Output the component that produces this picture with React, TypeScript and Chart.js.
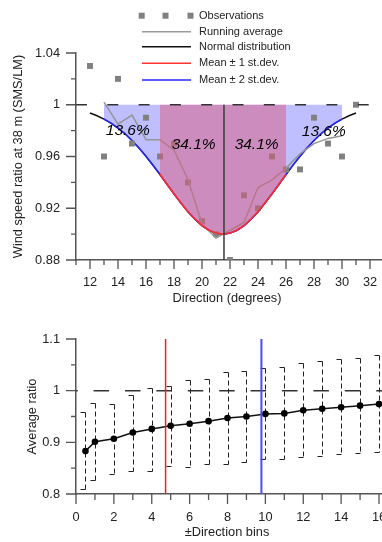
import React, { useEffect, useRef } from "react";
import { Chart, registerables } from "chart.js";

Chart.register(...registerables);

const FONT = "'Liberation Sans', Arial, Helvetica, sans-serif";
const TEXT = "#222222";
const AXIS = "#555555";

// ---------- Top chart data ----------
const OBS_DIR = [12, 13, 14, 15, 16, 17, 18, 19, 20, 21, 22, 23, 24, 25, 26, 27, 28, 29, 30, 31];
const OBS_RATIO = [1.03, 0.96, 1.02, 0.97, 0.99, 0.96, 0.97, 0.94, 0.91, 0.9, 0.88, 0.93, 0.92, 0.96, 0.95, 0.95, 0.99, 0.97, 0.96, 1.0];

const RUN_DIR = [13, 14, 15, 16, 17, 18, 19, 20, 21, 22, 23, 24, 25, 26, 27, 28, 29, 30];
const RUN_RATIO = [1.002, 0.985, 0.992, 0.973, 0.973, 0.965, 0.942, 0.908, 0.897, 0.903, 0.909, 0.936, 0.942, 0.951, 0.962, 0.97, 0.974, 0.976];

const NORM_DIR = [12, 12.5, 13, 13.5, 14, 14.5, 15, 15.5, 16, 16.5, 17, 17.5, 18, 18.5, 19, 19.5, 20, 20.5, 21, 21.5, 22, 22.5, 23, 23.5, 24, 24.5, 25, 25.5, 26, 26.5, 27, 27.5, 28, 28.5, 29, 29.5, 30, 30.5, 31];
const NORM_RATIO = [0.9936, 0.9915, 0.9889, 0.9858, 0.982, 0.9776, 0.9724, 0.9666, 0.9602, 0.9533, 0.9461, 0.9386, 0.9312, 0.924, 0.9173, 0.9115, 0.9066, 0.903, 0.9008, 0.9, 0.9008, 0.903, 0.9066, 0.9115, 0.9173, 0.924, 0.9312, 0.9386, 0.9461, 0.9533, 0.9602, 0.9666, 0.9724, 0.9776, 0.982, 0.9858, 0.9889, 0.9915, 0.9936];

const MEAN_DIR = 21.57;
const SD1_RANGE = [17, 26];
const SD2_RANGE = [13, 30];
const REF_LINE_RANGE = [11, 32];

const PCT_LABELS = ["13.6%", "34.1%", "34.1%", "13.6%"];
const PCT_DIR = [14.7, 19.4, 23.9, 28.7];
const PCT_RATIO = [0.98, 0.969, 0.969, 0.979];

const TOP_X_TICKS = [12, 14, 16, 18, 20, 22, 24, 26, 28, 30, 32];
const TOP_X_MINOR = [11, 13, 15, 17, 19, 21, 23, 25, 27, 29, 31, 33];
const TOP_Y_TICKS = [0.88, 0.92, 0.96, 1.0, 1.04];
const TOP_Y_LABELS = ["0.88", "0.92", "0.96", "1", "1.04"];
const TOP_Y_MINOR = [0.9, 0.94, 0.98, 1.02];

const LEGEND_LABELS = ["Observations", "Running average", "Normal distribution", "Mean \u00b1 1 st.dev.", "Mean \u00b1 2 st.dev."];
const TOP_X_TITLE = "Direction (degrees)";
const TOP_Y_TITLE = "Wind speed ratio at 38 m (SMS/LM)";

// ---------- Bottom chart data ----------
const BINS = [0.5, 1, 2, 3, 4, 5, 6, 7, 8, 9, 10, 11, 12, 13, 14, 15, 16];
const AVG_RATIO = [0.883, 0.901, 0.907, 0.919, 0.926, 0.932, 0.936, 0.941, 0.947, 0.95, 0.955, 0.956, 0.962, 0.965, 0.968, 0.971, 0.974];
const UPPER = [0.958, 0.976, 0.974, 0.992, 1.006, 1.01, 1.021, 1.022, 1.037, 1.038, 1.044, 1.046, 1.054, 1.057, 1.061, 1.063, 1.069];
const LOWER = [0.809, 0.827, 0.839, 0.845, 0.845, 0.855, 0.852, 0.858, 0.858, 0.861, 0.867, 0.868, 0.872, 0.874, 0.877, 0.879, 0.881];
const SD1_BIN = 4.73;
const SD2_BIN = 9.79;

const BOT_X_TICKS = [0, 2, 4, 6, 8, 10, 12, 14, 16, 18];
const BOT_X_MINOR = [1, 3, 5, 7, 9, 11, 13, 15, 17];
const BOT_Y_TICKS = [0.8, 0.9, 1.0, 1.1];
const BOT_Y_LABELS = ["0.8", "0.9", "1", "1.1"];
const BOT_Y_MINOR = [0.85, 0.95, 1.05];
const BOT_X_TITLE = "\u00b1Direction bins";
const BOT_Y_TITLE = "Average ratio";

const pts = (xs: number[], ys: number[]) => xs.map((x, i) => ({ x, y: ys[i] }));

type TickSpec = {
  xMajor: number[]; xMinor: number[]; yMajor: number[]; yMinor: number[];
  xMajorLen: number; xMinorLen: number; yMajorLen: number; yMinorLen: number;
};

function ticksPlugin(spec: TickSpec) {
  return {
    id: "manualTicks",
    afterDraw(chart: any) {
      const { ctx, chartArea, scales } = chart;
      const xs = scales.x, ys = scales.y;
      ctx.save();
      ctx.strokeStyle = AXIS;
      ctx.lineWidth = 1.3;
      ctx.beginPath();
      const yb = chartArea.bottom;
      const xl = chartArea.left;
      spec.xMajor.forEach((v) => { const p = xs.getPixelForValue(v); ctx.moveTo(p, yb); ctx.lineTo(p, yb + spec.xMajorLen); });
      spec.xMinor.forEach((v) => { const p = xs.getPixelForValue(v); ctx.moveTo(p, yb); ctx.lineTo(p, yb + spec.xMinorLen); });
      spec.yMajor.forEach((v) => { const p = ys.getPixelForValue(v); ctx.moveTo(xl, p); ctx.lineTo(xl - spec.yMajorLen, p); });
      spec.yMinor.forEach((v) => { const p = ys.getPixelForValue(v); ctx.moveTo(xl, p); ctx.lineTo(xl - spec.yMinorLen, p); });
      ctx.stroke();
      ctx.restore();
    },
  };
}

function xTitlePlugin(text: string, offsetX: number, y: number) {
  return {
    id: "xTitle",
    afterDraw(chart: any) {
      const { ctx, chartArea } = chart;
      ctx.save();
      ctx.fillStyle = TEXT;
      ctx.font = `12.8px ${FONT}`;
      ctx.textAlign = "center";
      ctx.textBaseline = "middle";
      ctx.fillText(text, chartArea.left + offsetX, y);
      ctx.restore();
    },
  };
}

const topAnnotations = {
  id: "topAnnotations",
  afterDraw(chart: any) {
    const { ctx, scales } = chart;
    ctx.save();
    // percentages
    ctx.fillStyle = "#000";
    ctx.font = `italic 15.5px ${FONT}`;
    ctx.textAlign = "center";
    ctx.textBaseline = "middle";
    PCT_LABELS.forEach((t, i) => {
      ctx.fillText(t, scales.x.getPixelForValue(PCT_DIR[i]), scales.y.getPixelForValue(PCT_RATIO[i]));
    });
    // legend
    const lx0 = 142, lx1 = 191, tx = 199;
    const rows = [15.7, 31.7, 46.7, 63.3, 80];
    ctx.fillStyle = "#808080";
    [141.7, 165.5, 190.5].forEach((sx) => ctx.fillRect(sx - 3, rows[0] - 3, 6, 6));
    const lineColors = ["#9a9a9a", "#111111", "#ff3030", "#2828ff"];
    lineColors.forEach((c, i) => {
      ctx.strokeStyle = c;
      ctx.lineWidth = 1.5;
      ctx.beginPath();
      ctx.moveTo(lx0, rows[i + 1]);
      ctx.lineTo(lx1, rows[i + 1]);
      ctx.stroke();
    });
    ctx.fillStyle = TEXT;
    ctx.font = `11px ${FONT}`;
    ctx.textAlign = "left";
    LEGEND_LABELS.forEach((t, i) => ctx.fillText(t, tx, rows[i]));
    ctx.restore();
  },
};

const errorBars = {
  id: "errorBars",
  beforeDatasetsDraw(chart: any) {
    const { ctx, scales } = chart;
    const xs = scales.x, ys = scales.y;
    ctx.save();
    ctx.strokeStyle = "#222";
    ctx.lineWidth = 1;
    BINS.forEach((b, i) => {
      const px = Math.round(xs.getPixelForValue(b)) + 0.5;
      const pt = Math.round(ys.getPixelForValue(UPPER[i])) + 0.5;
      const pb = Math.round(ys.getPixelForValue(LOWER[i])) + 0.5;
      ctx.setLineDash([]);
      ctx.beginPath();
      ctx.moveTo(px - 5, pt); ctx.lineTo(px, pt);
      ctx.moveTo(px - 5, pb); ctx.lineTo(px, pb);
      ctx.stroke();
      ctx.setLineDash([5, 3]);
      ctx.beginPath();
      ctx.moveTo(px, pt); ctx.lineTo(px, pb);
      ctx.stroke();
    });
    ctx.restore();
  },
};

function axisBase(min: number, max: number, tickVals: number[], labels: string[] | null, padding: number) {
  return {
    type: "linear" as const,
    min, max,
    grid: { display: false, drawTicks: false },
    border: { display: true, color: AXIS, width: 1.5 },
    afterBuildTicks: (s: any) => { s.ticks = tickVals.map((v) => ({ value: v })); },
    ticks: {
      autoSkip: false, maxRotation: 0, minRotation: 0, padding,
      color: TEXT, font: { family: FONT, size: 12.8 },
      callback: (v: any, i: number) => (labels ? labels[i] : String(v)),
    },
  };
}

function topConfig(): any {
  const normPts = pts(NORM_DIR, NORM_RATIO);
  const within = (r: number[]) => normPts.filter((p) => p.x >= r[0] && p.x <= r[1]);
  return {
    type: "line",
    data: {
      datasets: [
        { data: [{ x: REF_LINE_RANGE[0], y: 1 }, { x: REF_LINE_RANGE[1], y: 1 }], borderColor: "#333", borderWidth: 1.5, borderDash: [11, 20.3], pointRadius: 0, fill: false },
        { data: [{ x: MEAN_DIR, y: 1 }, { x: MEAN_DIR, y: 0.88 }], borderColor: "#3a3a3a", borderWidth: 1.5, pointRadius: 0, fill: false },
        { data: within(SD1_RANGE), borderColor: "#ff2a2a", borderWidth: 1.5, pointRadius: 0, fill: { value: 1 }, backgroundColor: "rgba(219,89,125,0.5)" },
        { data: pts(RUN_DIR, RUN_RATIO), borderColor: "#959595", borderWidth: 1.5, pointRadius: 0, fill: false },
        { data: pts(OBS_DIR, OBS_RATIO), showLine: false, pointStyle: "rect", pointRadius: 4.2, pointBackgroundColor: "#808080", pointBorderWidth: 0, borderColor: "#808080", fill: false },
        { data: within(SD2_RANGE), borderColor: "#2424ff", borderWidth: 1.5, pointRadius: 0, fill: { value: 1 }, backgroundColor: "rgba(128,128,255,0.5)" },
        { data: normPts, borderColor: "#111", borderWidth: 1.5, pointRadius: 0, fill: false },
      ],
    },
    options: {
      responsive: false,
      animation: false,
      devicePixelRatio: 1,
      events: [],
      layout: { padding: { left: 0, top: 53, right: 16, bottom: 0 } },
      plugins: { legend: { display: false }, tooltip: { enabled: false } },
      scales: {
        x: { ...axisBase(11, 33, TOP_X_TICKS, null, 15), afterFit: (s: any) => { s.height = 50; } },
        y: {
          ...axisBase(0.88, 1.04, TOP_Y_TICKS, TOP_Y_LABELS, 16),
          afterFit: (s: any) => { s.width = 76; },
          title: { display: true, text: TOP_Y_TITLE, color: TEXT, font: { family: FONT, size: 12.8 }, padding: { top: 10.3, bottom: 0 } },
        },
      },
    },
    plugins: [
      ticksPlugin({ xMajor: TOP_X_TICKS, xMinor: TOP_X_MINOR, yMajor: TOP_Y_TICKS, yMinor: TOP_Y_MINOR, xMajorLen: 9, xMinorLen: 5, yMajorLen: 10, yMinorLen: 5 }),
      xTitlePlugin(TOP_X_TITLE, 151, 298),
      topAnnotations,
    ],
  };
}

function botConfig(): any {
  return {
    type: "line",
    data: {
      datasets: [
        { data: [{ x: SD1_BIN, y: 0.8 }, { x: SD1_BIN, y: 1.1 }], borderColor: "#ff1a1a", borderWidth: 1.5, pointRadius: 0, fill: false },
        { data: [{ x: SD2_BIN, y: 0.8 }, { x: SD2_BIN, y: 1.1 }], borderColor: "#4a4aff", borderWidth: 2, pointRadius: 0, fill: false },
        { data: pts(BINS, AVG_RATIO), borderColor: "#111", borderWidth: 1.5, pointRadius: 3.3, pointBackgroundColor: "#000", pointBorderWidth: 0, fill: false },
        { data: [{ x: 0, y: 1 }, { x: 18, y: 1 }], borderColor: "#333", borderWidth: 1.5, borderDash: [15.5, 15.9], borderDashOffset: 13.8, pointRadius: 0, fill: false },
      ],
    },
    options: {
      responsive: false,
      animation: false,
      devicePixelRatio: 1,
      events: [],
      layout: { padding: { left: 0, top: 29, right: 15.3, bottom: 0 } },
      plugins: { legend: { display: false }, tooltip: { enabled: false } },
      scales: {
        x: { ...axisBase(0, 18, BOT_X_TICKS, null, 16), afterFit: (s: any) => { s.height = 48; } },
        y: {
          ...axisBase(0.8, 1.1, BOT_Y_TICKS, BOT_Y_LABELS, 16),
          afterFit: (s: any) => { s.width = 76; },
          title: { display: true, text: BOT_Y_TITLE, color: TEXT, font: { family: FONT, size: 12.8 }, padding: { top: 24.3, bottom: 0 } },
        },
      },
    },
    plugins: [
      errorBars,
      ticksPlugin({ xMajor: BOT_X_TICKS, xMinor: BOT_X_MINOR, yMajor: BOT_Y_TICKS, yMinor: BOT_Y_MINOR, xMajorLen: 10, xMinorLen: 6, yMajorLen: 10, yMinorLen: 5 }),
      xTitlePlugin(BOT_X_TITLE, 151, 222),
    ],
  };
}

export default function App() {
  const topRef = useRef<HTMLCanvasElement>(null);
  const botRef = useRef<HTMLCanvasElement>(null);
  useEffect(() => {
    const top = new Chart(topRef.current as HTMLCanvasElement, topConfig());
    const bot = new Chart(botRef.current as HTMLCanvasElement, botConfig());
    return () => {
      top.destroy();
      bot.destroy();
    };
  }, []);
  return (
    <div style={{ position: "fixed", left: 0, top: 0, width: 382, height: 542, overflow: "hidden", background: "#fff" }}>
      <canvas ref={topRef} width={400} height={310} style={{ position: "absolute", left: 0, top: 0, width: 400, height: 310 }} />
      <canvas ref={botRef} width={440} height={232} style={{ position: "absolute", left: 0, top: 310, width: 440, height: 232 }} />
    </div>
  );
}
